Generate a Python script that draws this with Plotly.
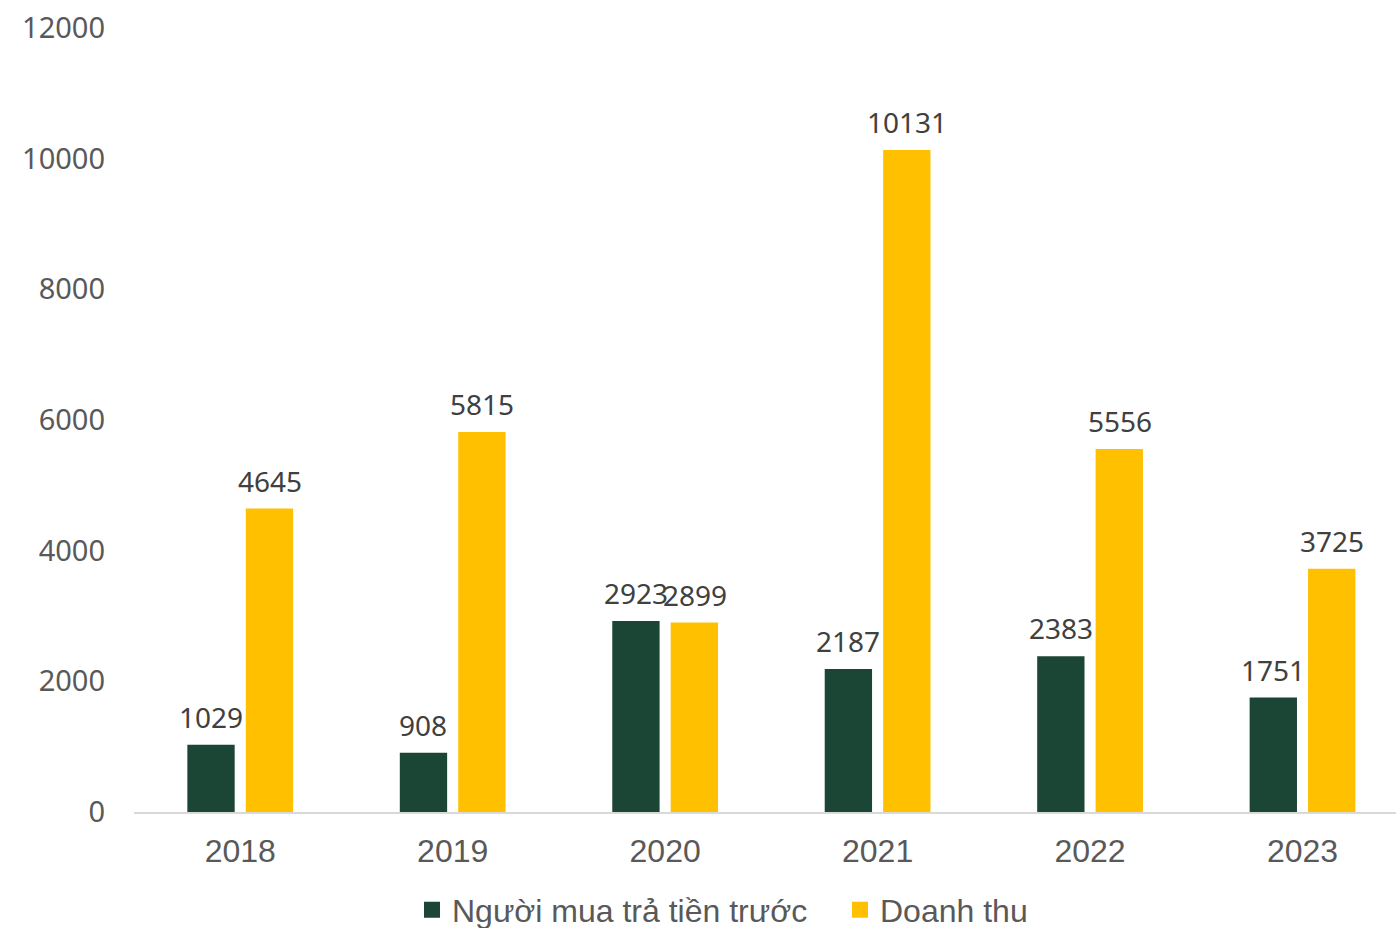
import plotly.graph_objects as go

years = ["2018", "2019", "2020", "2021", "2022", "2023"]
prepaid = [1029, 908, 2923, 2187, 2383, 1751]
revenue = [4645, 5815, 2899, 10131, 5556, 3725]
series_names = ["Người mua trả tiền trước", "Doanh thu"]
y_ticks = [0, 2000, 4000, 6000, 8000, 10000, 12000]

GREEN = "#1B4535"
YELLOW = "#FFC000"
label_font = dict(family="Noto Sans", size=28, color="#404040")

fig = go.Figure()
series = [(series_names[0], prepaid, GREEN, -29.5), (series_names[1], revenue, YELLOW, 29.5)]
for name, vals, color, shift in series:
    fig.add_trace(go.Bar(
        x=years, y=vals, name=name, showlegend=False,
        marker=dict(color=color, line=dict(width=0)),
    ))
    # value labels above each bar (category index as x position)
    for i, v in enumerate(vals):
        fig.add_annotation(
            x=i, y=v, text=str(v), showarrow=False,
            xanchor="center", yanchor="bottom", xshift=shift, yshift=7,
            font=label_font,
        )

# square legend keys
for name, color in [(series_names[0], GREEN), (series_names[1], YELLOW)]:
    fig.add_trace(go.Scatter(
        x=[None], y=[None], mode="markers", name=name,
        marker=dict(symbol="square", size=20, color=color),
    ))

fig.update_layout(
    width=1396, height=928,
    margin=dict(l=134, r=0, t=28, b=116, autoexpand=False),
    paper_bgcolor="white", plot_bgcolor="white",
    barmode="group", bargap=0.45, bargroupgap=0.19,
    showlegend=True,
    legend=dict(
        orientation="h", xref="container", x=412 / 1396, xanchor="left",
        yref="container", y=1 - 910 / 928, yanchor="middle",
        font=dict(family="Liberation Sans", size=32, color="#595959"),
        itemwidth=30, entrywidth=383, tracegroupgap=0,
    ),
    xaxis=dict(
        type="category", range=[-0.5, 5.44], automargin=False,
        showgrid=False, showline=True, linecolor="#D9D9D9", linewidth=2,
        ticks="", tickfont=dict(family="Liberation Sans", size=32, color="#595959"),
        ticklabelstandoff=10,
    ),
    yaxis=dict(
        range=[0, 12000], tickvals=y_ticks, ticktext=[str(v) for v in y_ticks],
        automargin=False,
        showgrid=False, zeroline=False, showline=False, ticks="",
        tickfont=dict(family="Noto Sans", size=29, color="#595959"),
        ticklabelstandoff=28,
    ),
)

fig.write_html("out.html")
